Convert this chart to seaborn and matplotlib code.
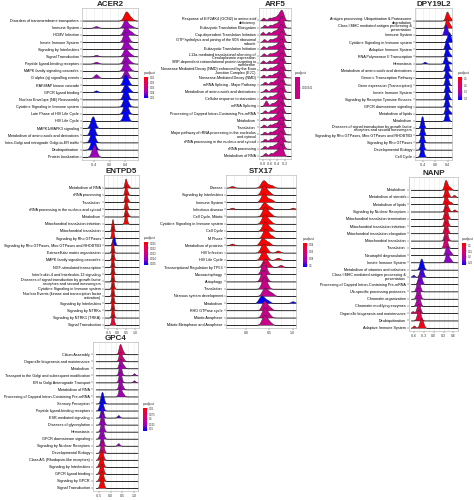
import matplotlib
matplotlib.use("Agg")
import matplotlib.pyplot as plt
import matplotlib.colors as mcolors
import matplotlib.transforms as mtransforms
import matplotlib.cm as cm
import numpy as np
import seaborn as sns

sns.set_theme(style="white")
plt.rcParams["font.family"] = ["Liberation Sans", "DejaVu Sans"]

W, H = 474, 500

# ---------------- data ----------------
ACER2_TERMS = [
    "Disorders of transmembrane transporters", "Immune System", "HCMV Infection",
    "Innate Immune System", "Signaling by Interleukins", "Signal Transduction",
    "Peptide ligand-binding receptors", "MAPK family signaling cascades",
    "G alpha (q) signalling events", "RAF/MAP kinase cascade", "GPCR ligand binding",
    "Nuclear Envelope (NE) Reassembly", "Cytokine Signaling in Immune system",
    "Late Phase of HIV Life Cycle", "HIV Life Cycle", "MAPK1/MAPK3 signaling",
    "Metabolism of amino acids and derivatives",
    "Intra-Golgi and retrograde Golgi-to-ER traffic", "Deubiquitination",
    "Protein localization",
]
ACER2_PADJ = [0.008, 0.040, 0.040, 0.040, 0.040, 0.040, 0.040, 0.040, 0.040, 0.052,
              0.052, 0.052, 0.052, 0.052, 0.052, 0.052, 0.052, 0.052, 0.052, 0.040]
ACER2_PADJ_TICKS = [0.01, 0.02, 0.03, 0.04, 0.05]
ACER2_VALUES = [
    [0.36, 0.40, 0.41, 0.42, 0.43, 0.45, 0.50, 0.55],
    [-0.35, 0.36, 0.38, 0.39, 0.40, 0.42, 0.47, 0.55],
    [0.37, 0.38, 0.40, 0.41, 0.44, 0.50, 0.56],
    [0.36, 0.38, 0.39, 0.40, 0.42, 0.48],
    [0.37, 0.39, 0.40, 0.41, 0.45, 0.52],
    [-0.35, 0.36, 0.38, 0.39, 0.40, 0.43, 0.47, 0.54],
    [-0.35, 0.37, 0.38, 0.40, 0.41, 0.44, 0.52],
    [0.36, 0.38, 0.39, 0.40, 0.43, 0.50],
    [-0.36, -0.34, 0.37, 0.39, 0.40, 0.42, 0.46],
    [0.36, 0.38, 0.39, 0.40, 0.42, 0.47],
    [-0.35, 0.36, 0.38, 0.40, 0.41, 0.45, 0.51],
    [0.37, 0.38, 0.40, 0.41, 0.43],
    [0.36, 0.38, 0.39, 0.40, 0.42, 0.46],
    [0.37, 0.38, 0.40, 0.41, 0.44],
    [0.37, 0.38, 0.39, 0.40, 0.41, 0.43],
    [-0.48, -0.45, -0.44, -0.43, -0.42, -0.40],
    [-0.48, -0.46, -0.45, -0.44, -0.42],
    [-0.49, -0.46, -0.45, -0.44, -0.43, -0.41],
    [-0.47, -0.45, -0.44, -0.43, -0.41, -0.39],
    [-0.44, -0.42, -0.41, -0.40, -0.38, -0.36],
]

ARF5_TERMS = [
    "Response of EIF2AK4 (GCN2) to amino acid\ndeficiency",
    "Eukaryotic Translation Elongation", "Cap-dependent Translation Initiation",
    "GTP hydrolysis and joining of the 60S ribosomal\nsubunit",
    "Eukaryotic Translation Initiation",
    "L13a-mediated translational silencing of\nCeruloplasmin expression",
    "SRP-dependent cotranslational protein targeting to\nmembrane",
    "Nonsense Mediated Decay (NMD) enhanced by the Exon\nJunction Complex (EJC)",
    "Nonsense-Mediated Decay (NMD)", "mRNA Splicing - Major Pathway",
    "Metabolism of amino acids and derivatives", "Cellular response to starvation",
    "mRNA Splicing", "Processing of Capped Intron-Containing Pre-mRNA", "Metabolism",
    "Translation", "Major pathway of rRNA processing in the nucleolus\nand cytosol",
    "rRNA processing in the nucleus and cytosol", "rRNA processing", "Metabolism of RNA",
]
ARF5_PADJ = [0.000341, 0.000341, 0.000341, 0.000341, 0.000341, 0.000341, 0.000341,
             0.000341, 0.000341, 0.000341, 0.000341, 0.000341, 0.000341, 0.000341,
             0.000341, 0.000341, 0.000341, 0.000341, 0.000341, 0.000341]
ARF5_PADJ_TICKS = [0.000341]
ARF5_VALUES = [
    [-0.78, -0.62, -0.52, -0.44, -0.38, -0.34, -0.31, -0.29, -0.27, -0.24],
    [-0.75, -0.60, -0.50, -0.43, -0.37, -0.33, -0.30, -0.29, -0.27, -0.25],
    [-0.80, -0.64, -0.52, -0.45, -0.39, -0.35, -0.32, -0.30, -0.28, -0.25],
    [-0.76, -0.60, -0.50, -0.42, -0.37, -0.33, -0.31, -0.29, -0.27, -0.24],
    [-0.78, -0.63, -0.53, -0.45, -0.39, -0.35, -0.32, -0.30, -0.28, -0.25],
    [-0.77, -0.61, -0.51, -0.43, -0.37, -0.34, -0.31, -0.29, -0.27, -0.24],
    [-0.79, -0.62, -0.50, -0.43, -0.38, -0.34, -0.31, -0.29, -0.27, -0.25],
    [-0.76, -0.60, -0.50, -0.43, -0.38, -0.34, -0.31, -0.30, -0.28, -0.25],
    [-0.78, -0.62, -0.51, -0.44, -0.38, -0.34, -0.31, -0.29, -0.27, -0.24],
    [-0.74, -0.58, -0.48, -0.42, -0.37, -0.34, -0.32, -0.30, -0.28, -0.26],
    [-0.72, -0.56, -0.47, -0.41, -0.37, -0.33, -0.31, -0.29, -0.27, -0.25],
    [-0.75, -0.60, -0.50, -0.43, -0.38, -0.34, -0.32, -0.30, -0.28, -0.25],
    [-0.72, -0.70, -0.55, -0.46, -0.40, -0.36, -0.33, -0.31, -0.29, -0.26],
    [-0.74, -0.58, -0.49, -0.43, -0.38, -0.35, -0.32, -0.30, -0.28, -0.26],
    [-0.76, -0.60, -0.50, -0.44, -0.39, -0.36, -0.33, -0.31, -0.29, -0.26],
    [-0.77, -0.61, -0.51, -0.44, -0.38, -0.34, -0.31, -0.29, -0.27, -0.24],
    [-0.75, -0.60, -0.50, -0.43, -0.38, -0.34, -0.32, -0.30, -0.28, -0.25],
    [-0.74, -0.59, -0.49, -0.43, -0.38, -0.35, -0.32, -0.30, -0.28, -0.25],
    [-0.75, -0.60, -0.50, -0.43, -0.38, -0.34, -0.32, -0.30, -0.28, -0.25],
    [-0.73, -0.58, -0.48, -0.42, -0.37, -0.34, -0.32, -0.30, -0.28, -0.26],
]

DPY19L2_TERMS = [
    "Antigen processing: Ubiquitination & Proteasome\ndegradation",
    "Class I MHC mediated antigen processing &\npresentation",
    "Immune System", "Cytokine Signaling in Immune system", "Adaptive Immune System",
    "RNA Polymerase II Transcription", "Hemostasis",
    "Metabolism of amino acids and derivatives", "Generic Transcription Pathway",
    "Gene expression (Transcription)", "Innate Immune System",
    "Signaling by Receptor Tyrosine Kinases", "GPCR downstream signaling",
    "Metabolism of lipids", "Metabolism",
    "Diseases of signal transduction by growth factor\nreceptors and second messengers",
    "Signaling by Rho GTPases, Miro GTPases and RHOBTB3", "Signaling by Rho GTPases",
    "Developmental Biology", "Cell Cycle",
]
DPY19L2_PADJ = [0.07, 0.08, 0.40, 0.43, 0.43, 0.43, 0.43, 0.43, 0.43, 0.43,
                0.43, 0.43, 0.43, 0.43, 0.43, 0.43, 0.43, 0.43, 0.43, 0.43]
DPY19L2_PADJ_TICKS = [0.1, 0.2, 0.3, 0.4]
DPY19L2_VALUES = [
    [0.33, 0.36, 0.37, 0.38, 0.39, 0.41, 0.45, 0.50],
    [0.34, 0.36, 0.37, 0.38, 0.40, 0.43, 0.48],
    [0.30, 0.32, 0.33, 0.34, 0.36, 0.40],
    [0.38, 0.41, 0.43, 0.44, 0.45, 0.47, 0.50],
    [0.33, 0.35, 0.36, 0.37, 0.39, 0.44],
    [0.33, 0.35, 0.36, 0.37, 0.38, 0.41, 0.47],
    [-0.33, 0.30, 0.32, 0.33, 0.34, 0.36, 0.46],
    [0.33, 0.35, 0.36, 0.37, 0.39, 0.42],
    [0.33, 0.35, 0.36, 0.37, 0.38, 0.42, 0.48],
    [0.33, 0.35, 0.36, 0.37, 0.38, 0.42],
    [0.34, 0.35, 0.36, 0.37, 0.39, 0.43],
    [0.33, 0.35, 0.36, 0.37, 0.39, 0.44],
    [0.33, 0.35, 0.36, 0.37, 0.38, 0.41],
    [0.34, 0.35, 0.36, 0.37, 0.39, 0.47],
    [0.33, 0.35, 0.36, 0.37, 0.38, 0.40],
    [-0.45, -0.43, -0.42, -0.41, -0.40, -0.38],
    [-0.45, -0.43, -0.42, -0.41, -0.39, -0.37],
    [-0.46, -0.44, -0.42, -0.41, -0.40, -0.38],
    [-0.45, -0.43, -0.42, -0.41, -0.39],
    [-0.46, -0.44, -0.43, -0.42, -0.40, -0.38],
]

ENTPD5_TERMS = [
    "Metabolism of RNA", "rRNA processing", "Translation",
    "rRNA processing in the nucleus and cytosol", "Metabolism",
    "Mitochondrial translation initiation", "Mitochondrial translation",
    "Signaling by Rho GTPases", "Signaling by Rho GTPases, Miro GTPases and RHOBTB3",
    "Extracellular matrix organization", "MAPK family signaling cascades",
    "NGF-stimulated transcription", "Interleukin-4 and Interleukin-13 signaling",
    "Diseases of signal transduction by growth factor\nreceptors and second messengers",
    "Cytokine Signaling in Immune system",
    "Nuclear Events (kinase and transcription factor\nactivation)",
    "Signaling by Interleukins", "Signaling by NTRKs", "Signaling by NTRK1 (TRKA)",
    "Signal Transduction",
]
ENTPD5_PADJ = [0.0008, 0.0008, 0.0008, 0.0008, 0.0008, 0.0008, 0.0008, 0.0008, 0.0052,
               0.0008, 0.0008, 0.0008, 0.0008, 0.0008, 0.0008, 0.0008, 0.0008, 0.0008,
               0.0008, 0.0015]
ENTPD5_PADJ_TICKS = [0.001, 0.002, 0.003, 0.004, 0.005]
ENTPD5_VALUES = [
    [0.42, 0.44, 0.45, 0.46, 0.47, 0.50, 0.56, 0.62],
    [0.42, 0.44, 0.45, 0.46, 0.48, 0.52, 0.58],
    [0.41, 0.44, 0.45, 0.46, 0.47, 0.50, 0.55, 0.60],
    [0.42, 0.44, 0.45, 0.46, 0.48, 0.51, 0.57],
    [0.42, 0.44, 0.45, 0.46, 0.47, 0.50, 0.54, 0.60],
    [0.41, 0.43, 0.45, 0.46, 0.47, 0.49, 0.53],
    [-0.31, -0.29, -0.28, -0.27, -0.26, -0.23],
    [-0.32, -0.30, -0.28, -0.27, -0.26, -0.24],
    [-0.30, -0.26, -0.23, -0.20, -0.17, -0.14],
    [-0.31, -0.29, -0.28, -0.27, -0.25],
    [-0.32, -0.29, -0.28, -0.27, -0.26, -0.22],
    [-0.31, -0.29, -0.28, -0.27, -0.25],
    [-0.32, -0.30, -0.28, -0.27, -0.26, -0.23],
    [-0.31, -0.29, -0.28, -0.27, -0.25],
    [-0.32, -0.29, -0.28, -0.27, -0.26, -0.22],
    [-0.31, -0.29, -0.28, -0.27, -0.25],
    [-0.32, -0.30, -0.28, -0.27, -0.26, -0.23],
    [-0.31, -0.29, -0.28, -0.27, -0.25],
    [-0.32, -0.29, -0.28, -0.27, -0.26, -0.22],
    [-0.33, -0.30, -0.28, -0.27, -0.25, -0.20],
]

STX17_TERMS = [
    "Disease", "Signaling by Interleukins", "Immune System", "Infectious disease",
    "Cell Cycle, Mitotic", "Cytokine Signaling in Immune system", "Cell Cycle",
    "M Phase", "Metabolism of proteins", "HIV Infection", "HIV Life Cycle",
    "Transcriptional Regulation by TP53", "Macroautophagy", "Autophagy", "Translation",
    "Nervous system development", "Metabolism", "RHO GTPase cycle", "Mitotic Anaphase",
    "Mitotic Metaphase and Anaphase",
]
STX17_PADJ = [0.035, 0.035, 0.035, 0.035, 0.035, 0.035, 0.035, 0.035, 0.035, 0.035,
              0.037, 0.050, 0.070, 0.070, 0.070, 0.072, 0.105, 0.070, 0.070, 0.070]
STX17_PADJ_TICKS = [0.04, 0.06, 0.08, 0.10]
STX17_VALUES = [
    [-0.30, 0.32, 0.35, 0.37, 0.38, 0.40, 0.44, 0.50, 0.56],
    [0.33, 0.36, 0.37, 0.38, 0.40, 0.44, 0.50],
    [0.32, 0.35, 0.37, 0.38, 0.40, 0.43, 0.49, 0.55],
    [-0.30, 0.34, 0.37, 0.38, 0.40, 0.42, 0.47, 0.53, 1.00],
    [0.35, 0.38, 0.40, 0.41, 0.43, 0.47, 0.53],
    [0.34, 0.37, 0.39, 0.40, 0.42, 0.46, 0.52],
    [0.35, 0.38, 0.40, 0.41, 0.43, 0.47, 0.53],
    [0.36, 0.39, 0.41, 0.42, 0.44, 0.48, 0.55],
    [-0.30, 0.30, 0.33, 0.35, 0.37, 0.40, 0.45, 0.50],
    [0.32, 0.35, 0.36, 0.38, 0.40, 0.45, 0.68],
    [0.32, 0.35, 0.36, 0.38, 0.40, 0.44, 0.68],
    [0.36, 0.38, 0.40, 0.42, 0.45, 0.50, 0.74],
    [0.34, 0.36, 0.37, 0.38, 0.40, 0.43],
    [0.33, 0.35, 0.36, 0.37, 0.39, 0.43],
    [0.35, 0.37, 0.38, 0.39, 0.41, 0.45],
    [0.35, 0.38, 0.40, 0.42, 0.45, 0.50, 0.56],
    [0.28, 0.31, 0.33, 0.35, 0.37, 0.42, 0.48, 1.00],
    [0.35, 0.37, 0.39, 0.40, 0.42, 0.46, 0.52],
    [0.35, 0.37, 0.39, 0.40, 0.42, 0.45, 0.50],
    [0.35, 0.37, 0.39, 0.40, 0.42, 0.45, 0.51],
]

NANP_TERMS = [
    "Metabolism", "Metabolism of steroids", "Metabolism of lipids",
    "Signaling by Nuclear Receptors", "Mitochondrial translation termination",
    "Mitochondrial translation initiation", "Mitochondrial translation elongation",
    "Mitochondrial translation", "Translation", "Neutrophil degranulation",
    "Innate Immune System", "Metabolism of vitamins and cofactors",
    "Class I MHC mediated antigen processing &\npresentation",
    "Processing of Capped Intron-Containing Pre-mRNA",
    "Ub-specific processing proteases", "Chromatin organization",
    "Chromatin modifying enzymes", "Organelle biogenesis and maintenance",
    "Deubiquitination", "Adaptive Immune System",
]
NANP_PADJ = [0.080, 0.082, 0.085, 0.088, 0.100, 0.105, 0.110, 0.130, 0.160, 0.220,
             0.225, 0.270, 0.250, 0.235, 0.210, 0.205, 0.200, 0.150, 0.120, 0.090]
NANP_PADJ_TICKS = [0.10, 0.15, 0.20, 0.25]
NANP_VALUES = [
    [0.33, 0.35, 0.36, 0.37, 0.39, 0.43, 0.50],
    [0.34, 0.36, 0.37, 0.38, 0.40, 0.45, 0.62],
    [0.33, 0.35, 0.36, 0.37, 0.39, 0.44, 0.52],
    [0.34, 0.36, 0.37, 0.38, 0.40, 0.45, 0.63],
    [0.33, 0.35, 0.36, 0.37, 0.38, 0.42],
    [0.33, 0.35, 0.36, 0.37, 0.38, 0.42],
    [0.33, 0.35, 0.36, 0.37, 0.38, 0.42],
    [0.33, 0.35, 0.36, 0.37, 0.38, 0.41],
    [0.32, 0.34, 0.35, 0.36, 0.37, 0.41],
    [0.36, 0.38, 0.40, 0.41, 0.43, 0.47, 0.52],
    [0.36, 0.38, 0.40, 0.41, 0.43, 0.47, 0.52],
    [-0.42, -0.40, -0.38, -0.37, -0.35, -0.32],
    [-0.62, -0.42, -0.40, -0.38, -0.37, -0.35, -0.32],
    [-0.47, -0.45, -0.43, -0.42, -0.40, -0.37],
    [-0.52, -0.50, -0.48, -0.47, -0.45, -0.42],
    [-0.52, -0.50, -0.48, -0.47, -0.45, -0.42],
    [-0.52, -0.50, -0.48, -0.47, -0.45, -0.42],
    [-0.64, -0.51, -0.49, -0.47, -0.46, -0.44, -0.41],
    [-0.50, -0.48, -0.46, -0.45, -0.43, -0.40],
    [-0.60, -0.42, -0.40, -0.38, -0.37, -0.35, -0.32],
]

GPC4_TERMS = [
    "Cilium Assembly", "Organelle biogenesis and maintenance", "Metabolism",
    "Transport to the Golgi and subsequent modification",
    "ER to Golgi Anterograde Transport", "Metabolism of RNA",
    "Processing of Capped Intron-Containing Pre-mRNA", "Sensory Perception",
    "Peptide ligand-binding receptors", "ESR-mediated signaling",
    "Diseases of glycosylation", "Hemostasis", "GPCR downstream signaling",
    "Signaling by Nuclear Receptors", "Developmental Biology",
    "Class A/1 (Rhodopsin-like receptors)", "Signaling by Interleukins",
    "GPCR ligand binding", "Signaling by GPCR", "Signal Transduction",
]
GPC4_PADJ = [0.080, 0.095, 0.120, 0.125, 0.125, 0.125, 0.125, 0.160, 0.160, 0.145,
             0.130, 0.130, 0.130, 0.130, 0.100, 0.045, 0.045, 0.045, 0.045, 0.045]
GPC4_PADJ_TICKS = [0.050, 0.075, 0.100, 0.125, 0.150]
GPC4_VALUES = [
    [0.36, 0.38, 0.40, 0.41, 0.43, 0.47, 0.53],
    [0.36, 0.38, 0.40, 0.41, 0.43, 0.48, 0.55],
    [0.37, 0.39, 0.41, 0.42, 0.45, 0.50, 0.57],
    [0.36, 0.38, 0.39, 0.40, 0.42, 0.46, 1.00],
    [0.36, 0.38, 0.39, 0.40, 0.42, 0.46, 1.00],
    [0.36, 0.38, 0.39, 0.40, 0.42, 0.46, 0.52],
    [0.35, 0.37, 0.39, 0.40, 0.42, 0.47, 0.54],
    [-0.42, -0.39, -0.37, -0.36, -0.34, -0.30],
    [-0.48, -0.45, -0.40, -0.38, -0.36, -0.33],
    [-0.42, -0.39, -0.37, -0.36, -0.34, 0.33],
    [-0.42, -0.39, -0.37, -0.36, -0.34, -0.31],
    [-0.42, -0.39, -0.37, -0.36, -0.34, -0.31],
    [-0.47, -0.42, -0.39, -0.37, -0.35, -0.31],
    [-0.41, -0.39, -0.37, -0.36, -0.34, 0.33],
    [-0.42, -0.39, -0.37, -0.36, -0.34, -0.31],
    [-0.50, -0.44, -0.41, -0.39, -0.37, -0.33],
    [-0.50, -0.44, -0.41, -0.39, -0.37, -0.33],
    [-0.48, -0.43, -0.40, -0.38, -0.36, -0.32],
    [-0.48, -0.43, -0.40, -0.38, -0.36, -0.32],
    [-0.45, -0.41, -0.39, -0.37, -0.35, -0.32],
]

# ---------------- layout / style ----------------
# name, terms, padj, values, padj ticks, panel px box, colorbar px box, xlim, xticks, bandwidth
PANELS = [
    ("ACER2", ACER2_TERMS, ACER2_PADJ, ACER2_VALUES, ACER2_PADJ_TICKS,
     (82, 8, 138, 160), (144, 77, 148, 98), (-0.71, 0.72), [-0.4, 0.0, 0.4], 0.052),
    ("ARF5", ARF5_TERMS, ARF5_PADJ, ARF5_VALUES, ARF5_PADJ_TICKS,
     (259, 8, 291, 159), (295, 77, 300, 99), (-0.87, -0.03), [-0.8, -0.6, -0.4, -0.2], 0.042),
    ("DPY19L2", DPY19L2_TERMS, DPY19L2_PADJ, DPY19L2_VALUES, DPY19L2_PADJ_TICKS,
     (415, 8, 452, 160), (458, 77, 462, 100), (-0.64, 0.54), [-0.4, 0.0, 0.4], 0.04),
    ("ENTPD5", ENTPD5_TERMS, ENTPD5_PADJ, ENTPD5_VALUES, ENTPD5_PADJ_TICKS,
     (104, 175, 139, 328), (144, 242, 148, 265), (-0.73, 1.21), [-0.5, 0.0, 0.5, 1.0], 0.05),
    ("STX17", STX17_TERMS, STX17_PADJ, STX17_VALUES, STX17_PADJ_TICKS,
     (226, 175, 296, 328), (303, 243, 307, 267), (-0.43, 1.07), [0.0, 0.5, 1.0], 0.045),
    ("NANP", NANP_TERMS, NANP_PADJ, NANP_VALUES, NANP_PADJ_TICKS,
     (409, 177, 458, 331), (462, 243, 466, 265), (-0.70, 0.74), [-0.6, -0.3, 0.0, 0.3, 0.6], 0.04),
    ("GPC4", GPC4_TERMS, GPC4_PADJ, GPC4_VALUES, GPC4_PADJ_TICKS,
     (93, 342, 138, 491), (143, 408, 147, 431), (-0.64, 1.17), [-0.5, 0.0, 0.5, 1.0], 0.05),
]

PADJ_CMAP = mcolors.LinearSegmentedColormap.from_list(
    "padj", ["#FF0000", "#E80050", "#C90088", "#9A00C3", "#0000FF"])
MID_COLOR = "#C90088"


def frac(x0, y0, x1, y1):
    return [x0 / W, 1 - y1 / H, (x1 - x0) / W, (y1 - y0) / H]


def ridge_panel(fig, name, terms, padj, values, pticks, box, cbox, xlim, xticks, bw):
    ax = fig.add_axes(frac(*box))
    n = len(terms)
    single = min(padj) == max(padj)
    norm = mcolors.Normalize(min(padj), max(padj))

    drawn = []
    for i, (vals, p) in enumerate(zip(values, padj)):
        col = MID_COLOR if single else PADJ_CMAP(norm(p))
        sns.kdeplot(x=vals, ax=ax, fill=True, bw_method=bw / np.std(vals, ddof=1),
                    cut=100, clip=xlim, gridsize=500, facecolor=col,
                    edgecolor="#2b2b2b", linewidth=0.35, alpha=1)
        drawn.append((n - 1 - i, ax.collections[-1]))

    # ggridges style: tallest ridge in the panel spans ~1.7 rows
    peak = max(pc.get_paths()[0].vertices[:, 1].max() for _, pc in drawn)
    k = 1.7 / peak
    for base, pc in drawn:
        pc.set_transform(mtransforms.Affine2D().scale(1, k).translate(0, base) + ax.transData)

    ax.set_xlim(*xlim)
    ax.set_ylim(-0.45, n - 1 + 1.75)
    ax.set_xticks(xticks)
    ax.set_xticklabels([f"{t:.1f}" for t in xticks])
    step = xticks[1] - xticks[0]
    minor = np.arange(xticks[0] - step / 2, xlim[1], step)
    ax.set_xticks(minor, minor=True)
    ax.set_yticks(range(n - 1, -1, -1))
    ax.set_yticklabels(terms, fontsize=2.7, linespacing=0.9)
    ax.tick_params(axis="x", labelsize=2.5, length=1.2, width=0.3, pad=0.8,
                   bottom=True, colors="#333333")
    ax.tick_params(axis="x", which="minor", length=0)
    ax.tick_params(axis="y", length=1.2, width=0.3, pad=1, left=True, colors="#333333")
    for lab in ax.get_yticklabels():
        lab.set_color("black")
    ax.grid(True, axis="x", which="both", color="#EBEBEB", linewidth=0.4)
    ax.set_axisbelow(True)
    for sp in ax.spines.values():
        sp.set_color("#BDBDBD")
        sp.set_linewidth(0.5)
    ax.set_xlabel("")
    ax.set_ylabel("")
    ax.set_title(name, fontsize=5.8, fontweight="bold", pad=1.5)

    # colour bar for p.adjust, low values on top
    cax = fig.add_axes(frac(*cbox))
    if single:
        sm = cm.ScalarMappable(norm=mcolors.Normalize(pticks[0] - 1, pticks[0] + 1),
                               cmap=mcolors.ListedColormap([MID_COLOR]))
        cb = fig.colorbar(sm, cax=cax)
        cb.set_ticks(pticks)
        cb.set_ticklabels([f"{t:.6f}" for t in pticks])
    else:
        sm = cm.ScalarMappable(norm=norm, cmap=PADJ_CMAP)
        cb = fig.colorbar(sm, cax=cax)
        cb.set_ticks(pticks)
        cb.set_ticklabels([f"{t:g}" for t in pticks])
        cax.invert_yaxis()
    cb.outline.set_visible(False)
    cax.tick_params(labelsize=1.9, length=0.8, width=0.3, colors="#333333", pad=0.6)
    cax.set_title("p.adjust", fontsize=2.4, loc="left", pad=2.2, color="#333333")


fig = plt.figure(figsize=(W / 100, H / 100), dpi=100)
for panel in PANELS:
    ridge_panel(fig, *panel)

fig.savefig("out.png", dpi=100, facecolor="white")
